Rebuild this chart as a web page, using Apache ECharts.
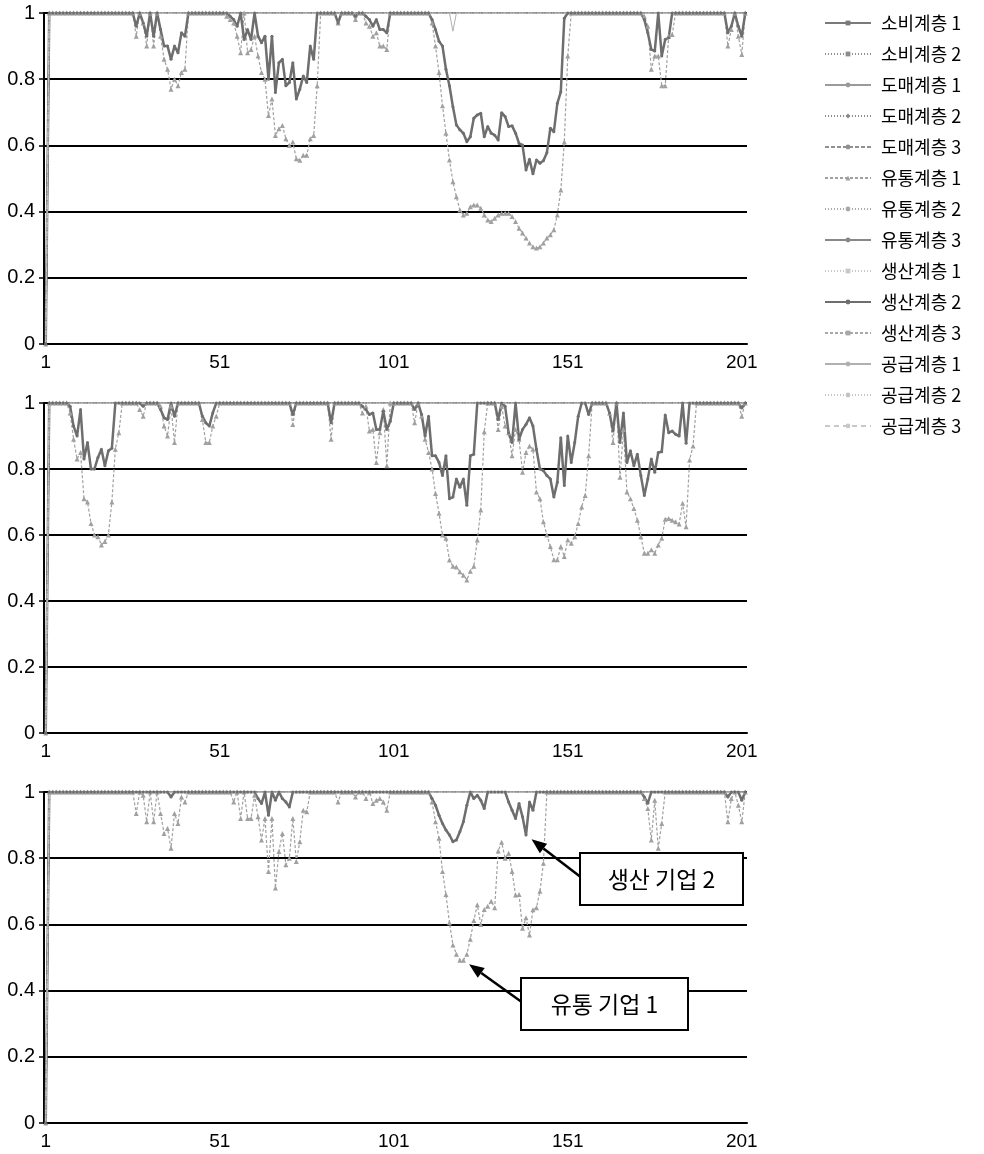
<!DOCTYPE html>
<html>
<head>
<meta charset="utf-8">
<script src="https://cdn.jsdelivr.net/npm/echarts@6/dist/echarts.min.js"></script>
<style>
  html, body { margin: 0; padding: 0; background: #fff; }
  #chart { width: 984px; height: 1154px; }
</style>
</head>
<body>
<div id="chart"></div>
<script>
// Time steps 1..202 on every panel
const pointCount = 202;
const categories = Array.from({ length: pointCount }, (_, i) => String(i + 1));
const yTicks = [0, 0.2, 0.4, 0.6, 0.8, 1];

const layerNames = [
  '소비계층 1', '소비계층 2', '도매계층 1', '도매계층 2', '도매계층 3',
  '유통계층 1', '유통계층 2', '유통계층 3', '생산계층 1', '생산계층 2',
  '생산계층 3', '공급계층 1', '공급계층 2', '공급계층 3'
];

// Each segment: [first step number, values...]. Step 1 is 0, all other steps are 1.
const panel1Production2 = [
  [27, 0.96, 1, 0.97, 0.93, 1, 0.93, 1, 0.95, 0.90, 0.90, 0.86, 0.90, 0.88, 0.94, 0.93],
  [54, 0.99, 0.98, 0.96, 1, 0.92, 0.95, 0.92, 1, 0.93, 0.91, 0.93, 0.80, 0.93, 0.76, 0.85, 0.86,
       0.78, 0.79, 0.85, 0.74, 0.77, 0.81, 0.79, 0.90, 0.86],
  [85, 0.97], [90, 0.99],
  [93, 0.99, 0.98, 0.96, 0.98, 0.95, 0.95, 0.94],
  [112, 0.98, 0.95, 0.915, 0.90, 0.83, 0.78, 0.717, 0.662, 0.647, 0.637, 0.611, 0.626, 0.682,
        0.692, 0.697, 0.626, 0.657, 0.637, 0.631, 0.616, 0.699, 0.687, 0.657, 0.659, 0.637,
        0.606, 0.601, 0.526, 0.558, 0.514, 0.556, 0.546, 0.554, 0.578, 0.652, 0.641, 0.727,
        0.762, 0.984],
  [173, 0.98, 0.94, 0.89, 0.885, 1, 0.87, 0.92, 0.925],
  [197, 0.94, 0.96, 1, 0.96, 0.93]
];
const panel1Distribution1 = [
  [27, 0.93, 1, 0.97, 0.90, 1, 0.90, 1, 0.93, 0.86, 0.83, 0.77, 0.80, 0.78, 0.82, 0.83],
  [53, 0.99, 0.98, 0.97, 0.93, 0.88, 1, 0.88, 0.89, 0.93, 0.87, 0.82, 0.80, 0.69, 0.74, 0.63,
       0.65, 0.66, 0.62, 0.60, 0.61, 0.56, 0.555, 0.57, 0.57, 0.62, 0.63, 0.78],
  [85, 0.97], [90, 0.98],
  [93, 0.97, 0.96, 0.93, 0.94, 0.90, 0.90, 0.89],
  [112, 0.97, 0.90, 0.82, 0.72, 0.637, 0.556, 0.49, 0.445, 0.405, 0.39, 0.395, 0.415, 0.42,
        0.42, 0.41, 0.39, 0.375, 0.37, 0.38, 0.39, 0.395, 0.395, 0.395, 0.385, 0.37, 0.35,
        0.335, 0.32, 0.305, 0.294, 0.29, 0.294, 0.305, 0.32, 0.33, 0.345, 0.39, 0.465, 0.61, 0.87],
  [173, 0.99, 0.96, 0.83, 0.87, 0.87, 0.78, 0.78, 0.93, 0.935],
  [197, 0.90, 0.95, 1, 0.93, 0.875]
];
const panel1Supply1 = [[118, 0.945]];

const panel2Production2 = [
  [8, 0.99, 0.93, 0.90, 0.98, 0.83, 0.88, 0.80, 0.80, 0.835, 0.86, 0.81, 0.855, 0.863],
  [29, 0.99],
  [34, 0.98, 0.955, 0.95, 1, 0.96],
  [46, 0.96, 0.94, 0.93, 0.97],
  [72, 0.965], [83, 0.94],
  [92, 0.99, 0.98, 0.965, 0.97, 0.92, 0.92, 0.975, 0.92, 0.945],
  [107, 0.98, 1, 0.965, 0.90, 0.96, 0.84, 0.84, 0.82, 0.78, 0.84, 0.71, 0.715, 0.77, 0.745,
        0.77, 0.69, 0.84, 0.845],
  [131, 0.95, 1, 0.99, 0.91, 0.88, 1, 0.89, 0.92, 0.935, 0.955, 0.93, 0.86, 0.80, 0.795, 0.78,
        0.77, 0.715, 0.76, 0.895, 0.75, 0.90, 0.82, 0.88, 0.96, 1, 1, 0.965],
  [163, 0.97, 0.915, 1, 0.88, 0.97, 0.82, 0.855, 0.81, 0.845, 0.78, 0.72, 0.77, 0.83, 0.79,
        0.85, 0.852, 0.964, 0.91, 0.915, 0.905, 0.90, 1, 0.878],
  [201, 0.985]
];
const panel2Distribution1 = [
  [8, 0.97, 0.89, 0.83, 0.85, 0.71, 0.70, 0.635, 0.60, 0.595, 0.57, 0.58, 0.60, 0.70, 0.86, 0.91],
  [28, 0.98, 0.96],
  [34, 0.99, 0.93, 0.90, 0.99, 0.88],
  [46, 0.95, 0.88, 0.88, 0.93, 0.96],
  [72, 0.935], [83, 0.89],
  [92, 0.97, 0.99, 0.915, 0.92, 0.82, 0.91, 0.98, 0.81],
  [107, 0.94, 1, 0.96, 0.89, 0.85, 0.80, 0.726, 0.666, 0.60, 0.59, 0.524, 0.505, 0.503, 0.489,
        0.478, 0.464, 0.49, 0.505, 0.585, 0.676, 0.913],
  [131, 0.92, 0.99, 0.93, 0.91, 0.84, 0.92, 0.89, 0.79, 0.85, 0.87, 0.86, 0.73, 0.71, 0.64,
        0.60, 0.565, 0.525, 0.525, 0.565, 0.535, 0.585, 0.575, 0.595, 0.635, 0.685, 0.72, 0.84],
  [163, 0.97, 0.88, 1, 0.775, 0.92, 0.73, 0.71, 0.68, 0.645, 0.595, 0.545, 0.545, 0.555, 0.545,
        0.57, 0.59, 0.648, 0.65, 0.645, 0.64, 0.633, 0.696, 0.625, 0.827, 0.87],
  [201, 0.96]
];

const panel3Production2 = [
  [37, 0.985],
  [62, 0.98, 0.965, 1, 0.93, 1, 0.975, 1, 0.98, 0.97, 0.955],
  [112, 0.98, 0.96, 0.93, 0.905, 0.885, 0.87, 0.85, 0.855, 0.88, 0.91, 0.96, 1, 0.98, 0.99,
        0.975, 0.95],
  [134, 0.97, 0.945, 0.92, 0.965, 0.925, 0.87, 0.97, 0.945],
  [173, 0.985, 0.966],
  [197, 0.985], [201, 0.975]
];
const panel3Distribution1 = [
  [27, 0.935, 1, 0.99, 0.91, 1, 0.91, 1, 0.935, 0.875, 0.89, 0.83, 0.935, 0.905, 0.985, 0.97],
  [55, 0.97, 1, 0.92, 1, 0.92, 0.92, 0.99, 0.925, 0.855, 0.92, 0.76, 0.92, 0.71, 0.82, 0.875,
       0.78, 0.80, 0.92, 0.79, 0.85, 0.945, 0.94],
  [85, 0.97], [90, 0.985],
  [93, 0.98, 1, 0.965, 0.975, 0.98, 0.97, 0.945],
  [112, 0.97, 0.91, 0.86, 0.76, 0.69, 0.605, 0.538, 0.51, 0.492, 0.492, 0.51, 0.555, 0.612,
        0.659, 0.60, 0.645, 0.655, 0.67, 0.65, 0.822, 0.848, 0.80, 0.815, 0.76, 0.689, 0.69,
        0.588, 0.62, 0.568, 0.644, 0.65, 0.70, 0.785],
  [173, 0.98, 0.95, 0.855, 0.975, 0.83, 0.905],
  [197, 0.91, 0.98, 1, 0.96, 0.91]
];

// Which layers deviate from 1 on each panel (by index into layerNames)
const panelSegments = [
  { 5: panel1Distribution1, 9: panel1Production2, 11: panel1Supply1 },
  { 5: panel2Distribution1, 9: panel2Production2 },
  { 5: panel3Distribution1, 9: panel3Production2 }
];

// Annotated points on the third panel
const callouts = [
  { text: '생산 기업 2', layer: 9, step: 139, box: [580, 853, 163, 52] },
  { text: '유통 기업 1', layer: 5, step: 121, box: [521, 978, 167, 52] }
];

const layerStyles = [
  { color: '#7a7a7a', type: 'solid',  width: 1.5, symbol: 'rect',     size: 4 },
  { color: '#8c8c8c', type: [1, 2],   width: 1,   symbol: 'rect',     size: 4 },
  { color: '#9a9a9a', type: 'solid',  width: 1.2, symbol: 'circle',   size: 2 },
  { color: '#8a8a8a', type: [1, 2],   width: 1,   symbol: 'diamond',  size: 5 },
  { color: '#909090', type: [4, 2],   width: 1,   symbol: 'circle',   size: 3 },
  { color: '#a0a0a0', type: [3, 2],   width: 1.2, symbol: 'triangle', size: 5 },
  { color: '#a8a8a8', type: [1, 2],   width: 1,   symbol: 'circle',   size: 4 },
  { color: '#888888', type: 'solid',  width: 1.5, symbol: 'circle',   size: 3 },
  { color: '#c8c8c8', type: [1, 2],   width: 1,   symbol: 'rect',     size: 3 },
  { color: '#6e6e6e', type: 'solid',  width: 2.5, symbol: 'circle',   size: 3 },
  { color: '#a8a8a8', type: [3, 2],   width: 1,   symbol: 'rect',     size: 3 },
  { color: '#b0b0b0', type: 'solid',  width: 1,   symbol: 'circle',   size: 3 },
  { color: '#c4c4c4', type: [1, 2],   width: 1,   symbol: 'circle',   size: 4 },
  { color: '#c8c8c8', type: [5, 4],   width: 1,   symbol: 'circle',   size: 4 }
];
const markedLayers = [5, 9];

function buildValues(segments) {
  const values = new Array(pointCount).fill(1);
  values[0] = 0;
  (segments || []).forEach(seg => {
    seg.slice(1).forEach((v, k) => { values[seg[0] - 1 + k] = v; });
  });
  return values;
}

const tickFont = '"Liberation Sans", Arial, sans-serif';
const krFont = '"Noto Sans CJK KR", "Noto Sans", sans-serif';

const grids = [
  { left: 44, top: 13,  width: 703, height: 331 },
  { left: 44, top: 403, width: 703, height: 330 },
  { left: 44, top: 792, width: 703, height: 331 }
];

const xAxes = grids.map((g, i) => ({
  type: 'category', gridIndex: i, data: categories, boundaryGap: true,
  axisLine: { lineStyle: { color: '#000', width: 2 } },
  axisTick: { show: false },
  axisLabel: { interval: 49, color: '#000', fontSize: 19, fontFamily: tickFont, margin: 9 },
  splitLine: { show: false }
}));

const yAxes = grids.map((g, i) => ({
  type: 'value', gridIndex: i, min: yTicks[0], max: yTicks[yTicks.length - 1], interval: 0.2,
  axisLine: { show: true, lineStyle: { color: '#000', width: 2 } },
  axisTick: { show: true, length: 5, lineStyle: { color: '#000', width: 1.5 } },
  axisLabel: { color: '#000', fontSize: 20, fontFamily: tickFont, margin: 9 },
  splitLine: { lineStyle: { color: '#000', width: 2 } }
}));

const series = [];
panelSegments.forEach((segs, p) => {
  layerNames.forEach((name, i) => {
    const st = layerStyles[i];
    const marked = markedLayers.includes(i);
    series.push({
      name: name, type: 'line', xAxisIndex: p, yAxisIndex: p,
      data: buildValues(segs[i]),
      symbol: st.symbol, symbolSize: st.size,
      showSymbol: marked, showAllSymbol: marked,
      lineStyle: { color: st.color, width: st.width, type: st.type },
      itemStyle: { color: st.color },
      emphasis: { disabled: true },
      silent: true
    });
  });
});

const chart = echarts.init(document.getElementById('chart'), null, { renderer: 'canvas' });
chart.setOption({
  animation: false,
  backgroundColor: '#fff',
  grid: grids,
  xAxis: xAxes,
  yAxis: yAxes,
  legend: {
    data: layerNames, orient: 'vertical', left: 819, top: 8,
    itemWidth: 46, itemHeight: 6, itemGap: 11,
    textStyle: { fontSize: 18, fontFamily: krFont, color: '#000', lineHeight: 20, padding: [0, 0, 0, 5] },
    selectedMode: false
  },
  series: series
});

// Callout boxes with arrows pointing at the annotated points
function arrowParts(tip, tail) {
  const dx = tip[0] - tail[0], dy = tip[1] - tail[1];
  const len = Math.hypot(dx, dy);
  const ux = dx / len, uy = dy / len;
  const headLen = 15, headHalf = 6;
  const base = [tip[0] - ux * headLen, tip[1] - uy * headLen];
  const px = -uy, py = ux;
  return [
    { type: 'line', z: 100, shape: { x1: tail[0], y1: tail[1], x2: base[0], y2: base[1] },
      style: { stroke: '#000', lineWidth: 2.5 } },
    { type: 'polygon', z: 100,
      shape: { points: [tip, [base[0] + px * headHalf, base[1] + py * headHalf],
                             [base[0] - px * headHalf, base[1] - py * headHalf]] },
      style: { fill: '#000' } }
  ];
}

const graphics = [];
callouts.forEach(c => {
  const values = buildValues(panelSegments[2][c.layer]);
  const pt = chart.convertToPixel({ xAxisIndex: 2, yAxisIndex: 2 }, [c.step - 1, values[c.step - 1]]);
  const [bx, by, bw, bh] = c.box;
  const tail = [bx, by + bh * 0.45];
  const dx = tail[0] - pt[0], dy = tail[1] - pt[1];
  const d = Math.hypot(dx, dy);
  const tip = [pt[0] + dx / d * 7, pt[1] + dy / d * 7];
  graphics.push(...arrowParts(tip, tail));
  graphics.push({
    type: 'rect', z: 101, shape: { x: bx, y: by, width: bw, height: bh },
    style: { fill: '#fff', stroke: '#000', lineWidth: 2 }
  });
  graphics.push({
    type: 'text', z: 102, x: bx + bw / 2, y: by + bh / 2,
    style: { text: c.text, fill: '#000', font: '23px ' + krFont, align: 'center', verticalAlign: 'middle' }
  });
});
chart.setOption({ graphic: graphics });
</script>
</body>
</html>
